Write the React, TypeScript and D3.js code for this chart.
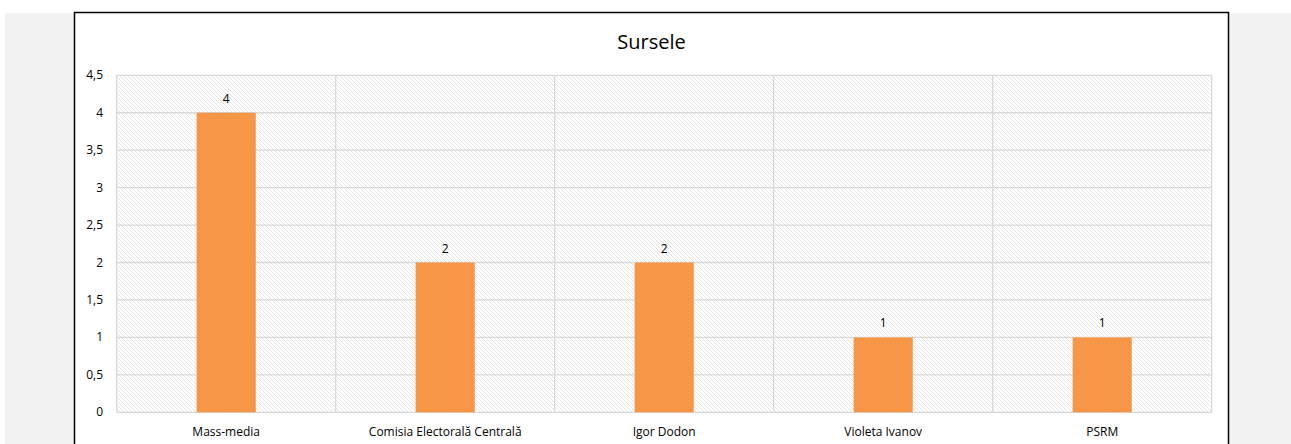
import React from "react";
import * as d3 from "d3";

const categories = ["Mass-media", "Comisia Electorală Centrală", "Igor Dodon", "Violeta Ivanov", "PSRM"];
const values = [4, 2, 2, 1, 1];
const yTicks = [0, 0.5, 1, 1.5, 2, 2.5, 3, 3.5, 4, 4.5];
const title = "Sursele";

const W = 1291;
const H = 444;
const plot = { left: 116.7, right: 1211.7, top: 75.3, bottom: 412.3 };
const font = "'Open Sans', 'Noto Sans', sans-serif";

export default function App() {
  const x = d3.scaleBand<string>().domain(categories).range([plot.left, plot.right]).paddingInner(0).paddingOuter(0);
  const y = d3.scaleLinear().domain([0, 4.5]).range([plot.bottom, plot.top]);
  const barW = x.bandwidth() * 0.27;
  const fmt = (v: number) => String(v).replace(".", ",");

  return (
    <svg width={W} height={H} style={{ position: "fixed", left: 0, top: 0, display: "block" }}>
      <defs>
        <pattern id="hatch" width="4" height="4" patternUnits="userSpaceOnUse">
          <rect width="4" height="4" fill="#ffffff" />
          <path d="M-1,-1 L5,5 M-1,3 L1,5 M3,-1 L5,1" stroke="#e4e4e4" strokeWidth="1" />
        </pattern>
      </defs>
      <rect x={0} y={0} width={W} height={H} fill="#ffffff" />
      <rect x={5} y={13} width={W - 5} height={H - 13} fill="#f2f2f2" />
      <rect x={74.5} y={12.5} width={1154} height={H} fill="#ffffff" stroke="#000000" strokeWidth={1.5} />
      <text x={651.6} y={48.5} textAnchor="middle" fontFamily={font} fontSize={20} fill="#000000">
        {title}
      </text>
      <rect x={plot.left} y={plot.top} width={plot.right - plot.left} height={plot.bottom - plot.top} fill="url(#hatch)" />
      {yTicks.map((t) => (
        <line key={"g" + t} x1={plot.left} x2={plot.right} y1={y(t)} y2={y(t)} stroke="#d9d9d9" strokeWidth={1.3} />
      ))}
      {categories.map((c) => (
        <line key={"v" + c} x1={x(c)!} x2={x(c)!} y1={plot.top} y2={plot.bottom} stroke="#d9d9d9" strokeWidth={1.3} />
      ))}
      <line x1={plot.right} x2={plot.right} y1={plot.top} y2={plot.bottom} stroke="#d9d9d9" strokeWidth={1.3} />
      {yTicks.map((t) => (
        <text key={"t" + t} x={103} y={y(t) + 4} textAnchor="end" fontFamily={font} fontSize={12} fill="#000000">
          {fmt(t)}
        </text>
      ))}
      {categories.map((c, i) => {
        const cx = x(c)! + x.bandwidth() / 2;
        return (
          <g key={"b" + c}>
            <rect x={cx - barW / 2} y={y(values[i])} width={barW} height={y(0) - y(values[i])} fill="#f79646" />
            <text x={cx} y={y(values[i]) - 10} textAnchor="middle" fontFamily={font} fontSize={12} fill="#000000">
              {fmt(values[i])}
            </text>
            <text x={cx} y={435.5} textAnchor="middle" fontFamily={font} fontSize={12} fill="#000000">
              {c}
            </text>
          </g>
        );
      })}
    </svg>
  );
}
